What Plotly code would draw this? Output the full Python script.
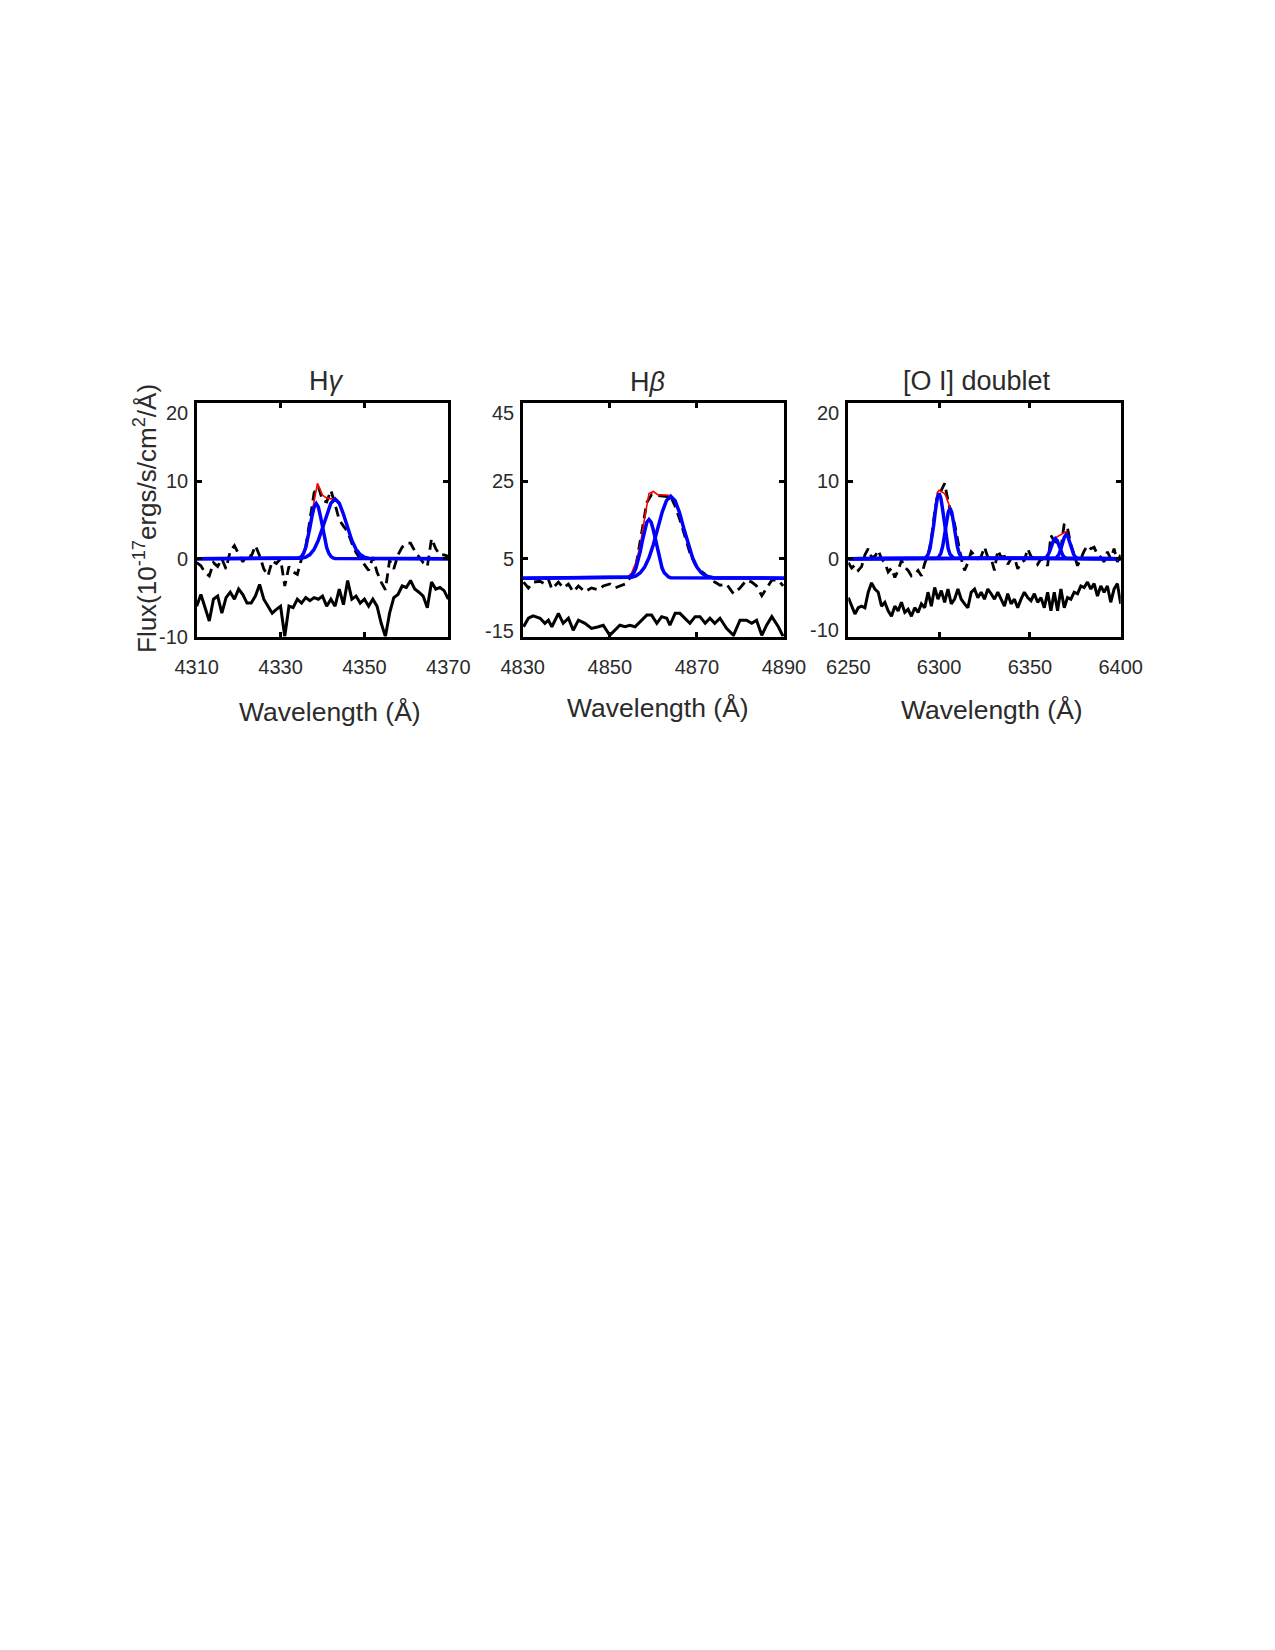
import numpy as np
import plotly.graph_objects as go

# ---------------- Panel 1 : H-gamma ----------------
hg_wave = np.linspace(4310, 4370, 61)
hg_flux = [-0.5, -0.9, -1.8, -2.2, -0.5, -1.0, 0.0, -1.3, 1.0, 1.7,
           0.6, -0.4, 0.5, 0.3, 1.7, 0.4, -1.3, -2.2, -0.3, -0.6,
           0.0, -3.5, -1.0, -1.7, -2.0, 0.0, 1.5, 5.0, 8.5, 9.3,
           7.5, 7.3, 8.8, 7.0, 5.0, 4.2, 3.5, 2.0, 0.8, 0.0,
           -0.7, -1.5, 0.2, -1.7, -3.0, -4.0, -0.2, -1.3, 0.5, 1.5,
           2.0, 2.0, 1.0, 0.3, -0.5, -1.0, 2.6, 1.3, 0.5, 0.5, 0.3]
hg_resid = [-6.1, -4.6, -6.3, -8.0, -5.2, -4.8, -7.0, -5.0, -4.3, -5.2,
            -3.9, -4.6, -5.7, -5.7, -4.8, -3.3, -5.2, -6.1, -7.0, -6.5,
            -6.1, -10.0, -6.1, -6.3, -5.2, -5.7, -5.0, -5.4, -5.0, -5.2,
            -4.8, -6.1, -5.2, -6.1, -3.9, -5.9, -2.8, -5.2, -4.8, -5.7,
            -5.2, -6.1, -5.2, -6.1, -8.3, -10.0, -7.0, -5.0, -4.6, -3.5,
            -3.7, -2.8, -3.9, -4.3, -4.8, -6.3, -3.0, -3.9, -3.7, -4.1, -5.2]
hg_c1_wave = [4310, 4334, 4334.5, 4335, 4335.5, 4336, 4336.5, 4337, 4337.5, 4338, 4338.5,
              4339, 4339.5, 4340, 4340.5, 4341, 4341.5, 4342, 4342.5, 4343, 4370]
hg_c1 = [0, 0.04, 0.12, 0.31, 0.71, 1.44, 2.56, 4.00, 5.50, 6.66, 7.1,
         6.66, 5.50, 4.00, 2.56, 1.44, 0.71, 0.31, 0.12, 0.04, 0]
hg_c2_wave = [4310, 4335, 4336, 4337, 4338, 4339, 4340, 4341, 4342, 4343,
              4344, 4345, 4346, 4347, 4348, 4349, 4350, 4351, 4370]
hg_c2 = [0, 0.07, 0.2, 0.54, 1.21, 2.36, 3.96, 5.73, 7.15, 7.7,
         7.15, 5.73, 3.96, 2.36, 1.21, 0.54, 0.2, 0.07, 0]
hg_fit_wave = [4310, 4333, 4334, 4335, 4336, 4337, 4338, 4338.8, 4340, 4341, 4342, 4343,
               4344, 4345, 4346, 4347, 4348, 4349, 4350, 4351, 4370]
hg_fit = [0, 0, 0.1, 0.4, 1.6, 4.5, 7.9, 9.7, 8.2, 7.8, 7.7, 7.7,
          7.15, 5.73, 3.96, 2.36, 1.21, 0.54, 0.2, 0.07, 0]

# ---------------- Panel 2 : H-beta ----------------
hb_wave = [4830.2, 4831.3, 4832.4, 4834.0, 4835.1, 4835.9, 4836.7, 4838.2, 4839.3, 4840.5,
           4841.6, 4842.8, 4844.3, 4845.8, 4847.4, 4848.5, 4850.0, 4851.2, 4852.3, 4853.5,
           4854.6, 4855.8, 4856.9, 4858.5, 4859.6, 4860.8, 4861.9, 4863.1, 4863.8, 4865.0,
           4866.1, 4867.3, 4868.4, 4869.6, 4870.7, 4871.9, 4873.0, 4874.1, 4875.3, 4876.8,
           4878.4, 4879.9, 4881.4, 4882.6, 4883.7, 4884.9, 4886.0, 4887.2, 4888.7, 4889.8]
hb_flux = [-1.0, -2.5, -1.0, -0.8, -1.5, -0.3, -2.8, -1.0, -2.5, -1.5,
           -3.5, -2.0, -3.5, -2.5, -3.0, -2.0, -1.5, -2.5, -2.0, -1.5,
           0.0, 2.0, 9.0, 19.5, 21.5, 21.3, 21.2, 21.0, 21.5, 18.5,
           15.0, 10.5, 6.5, 3.5, 2.0, 1.0, -0.5, -1.0, -1.8, -1.5,
           -4.0, -2.5, -0.5, -1.0, -2.0, -4.5, -2.5, -0.5, -0.5, -2.0]
hb_resid = [-12.5, -10.3, -9.7, -10.3, -11.6, -10.8, -12.5, -9.05, -11.6, -10.3,
            -13.4, -10.8, -11.6, -12.9, -12.5, -12.1, -14.7, -13.2, -12.1, -12.5,
            -12.1, -12.5, -11.2, -9.5, -9.5, -11.6, -9.9, -10.3, -12.1, -9.05,
            -9.05, -10.3, -11.6, -9.9, -9.9, -11.6, -10.3, -11.6, -10.3, -12.9,
            -14.7, -10.8, -10.8, -11.6, -10.8, -14.7, -12.1, -9.9, -12.5, -15.0]
hb_c1_wave = [4830, 4854, 4854.5, 4855, 4855.5, 4856, 4856.5, 4857, 4857.5, 4858, 4858.5,
              4859, 4859.5, 4860, 4860.5, 4861, 4861.5, 4862, 4862.5, 4863, 4863.5, 4864, 4890]
hb_c1 = [0, 0.11, 0.29, 0.66, 1.38, 2.60, 4.46, 6.91, 9.73, 12.4, 14.4,
         15.1, 14.4, 12.4, 9.73, 6.91, 4.46, 2.60, 1.38, 0.66, 0.29, 0.11, 0]
hb_c2_wave = [4830, 4854, 4855, 4856, 4857, 4858, 4859, 4860, 4861, 4862, 4863,
              4864, 4865, 4866, 4867, 4868, 4869, 4870, 4871, 4872, 4873, 4874, 4890]
hb_c2 = [0, 0.08, 0.23, 0.60, 1.39, 2.86, 5.26, 8.67, 12.8, 16.9, 19.96,
         21.1, 19.96, 16.9, 12.8, 8.67, 5.26, 2.86, 1.39, 0.60, 0.23, 0.08, 0]
hb_fit_wave = [4830, 4853, 4854, 4855, 4856, 4857, 4858, 4859, 4860, 4861, 4862, 4863,
               4864, 4865, 4866, 4867, 4868, 4869, 4870, 4871, 4872, 4873, 4874, 4890]
hb_fit = [0, 0, 0.2, 1.3, 4.0, 8.5, 15.5, 21.8, 22.3, 21.5, 21.4, 21.4,
          21.2, 19.96, 16.9, 12.8, 8.67, 5.26, 2.86, 1.39, 0.6, 0.23, 0.08, 0]

# ---------------- Panel 3 : [O I] doublet ----------------
oi_wave = np.linspace(6250, 6400, 83)
oi_flux = [-0.5, -1.2, -0.8, -1.5, -1.0, 0.5, 1.3, 0.2, 0.3, 1.1,
           0.0, -0.5, -1.7, -1.2, -2.4, -1.5, -0.2, -1.1, -1.5, -2.2,
           -2.0, -1.5, -2.2, -0.6, 0.5, 2.5, 6.0, 8.5, 8.8, 9.7,
           7.5, 5.8, 4.5, 2.0, 0.0, -1.5, -0.5, 0.9, 0.4, 0.0,
           0.3, 1.5, 0.2, 0.0, -1.5, 1.1, 0.2, 0.3, -0.7, 0.0,
           0.2, -1.3, -0.5, -0.2, 1.3, 0.3, 0.0, -0.7, 0.0, -0.2,
           -0.9, 3.0, 2.3, 2.0, 1.3, 4.5, 3.9, 1.8, 0.5, -0.9,
           0.0, 1.0, 1.7, 1.3, 1.5, 0.5, 0.2, -0.4, 0.9, 0.0,
           1.3, -0.4, 0.5]
oi_resid = [-5.0, -6.1, -7.1, -6.3, -6.1, -6.3, -4.3, -3.1, -3.9, -4.3,
            -6.1, -5.6, -6.7, -7.4, -6.1, -6.7, -5.6, -6.9, -6.5, -7.4,
            -6.3, -6.9, -5.8, -6.3, -4.3, -6.1, -3.7, -5.2, -4.1, -5.6,
            -3.9, -5.8, -5.2, -3.9, -5.2, -5.8, -6.3, -4.3, -3.9, -5.0,
            -4.3, -5.2, -3.9, -4.5, -5.2, -4.3, -5.2, -6.1, -4.5, -5.8,
            -5.2, -6.3, -5.2, -4.3, -5.0, -5.4, -4.5, -5.6, -5.0, -6.3,
            -4.3, -6.7, -4.3, -6.7, -3.9, -6.3, -5.0, -5.2, -4.3, -4.5,
            -3.5, -3.7, -3.0, -3.9, -3.2, -4.8, -3.5, -4.3, -3.5, -5.6,
            -3.9, -3.2, -5.8]
oi_c1_wave = [6250, 6292, 6293, 6294, 6295, 6296, 6297, 6298, 6299, 6300,
              6301, 6302, 6303, 6304, 6305, 6306, 6307, 6308, 6400]
oi_c1 = [0, 0.07, 0.23, 0.59, 1.32, 2.57, 4.32, 6.25, 7.80, 8.4,
         7.80, 6.25, 4.32, 2.57, 1.32, 0.59, 0.23, 0.07, 0]
oi_c2_wave = [6250, 6299, 6300, 6301, 6302, 6303, 6304, 6305, 6306,
              6307, 6308, 6309, 6310, 6311, 6312, 6313, 6400]
oi_c2 = [0, 0.09, 0.29, 0.74, 1.62, 2.98, 4.60, 5.96, 6.5,
         5.96, 4.60, 2.98, 1.62, 0.74, 0.29, 0.09, 0]
oi_c3_wave = [6250, 6358, 6359, 6360, 6361, 6362, 6363, 6364, 6365, 6366, 6367, 6368, 6369, 6370, 6400]
oi_c3 = [0, 0.06, 0.2, 0.5, 1.03, 1.72, 2.35, 2.6, 2.35, 1.72, 1.03, 0.5, 0.2, 0.06, 0]
oi_c4_wave = [6250, 6364, 6365, 6366, 6367, 6368, 6369, 6370, 6371, 6372, 6373, 6374, 6375, 6376, 6400]
oi_c4 = [0, 0.07, 0.24, 0.6, 1.22, 2.05, 2.8, 3.1, 2.8, 2.05, 1.22, 0.6, 0.24, 0.07, 0]
oi_fit_wave = [6250, 6291, 6292, 6293, 6294, 6295, 6296, 6297, 6298, 6299, 6300, 6301, 6302,
               6303, 6304, 6305, 6306, 6307, 6308, 6309, 6310, 6311, 6312, 6313,
               6357, 6358, 6359, 6360, 6361, 6362, 6363, 6364, 6365, 6366, 6367, 6368,
               6369, 6370, 6371, 6372, 6373, 6374, 6375, 6376, 6377, 6400]
oi_fit = [0, 0, 0.07, 0.23, 0.6, 1.4, 2.8, 4.8, 7.0, 8.5, 8.8, 8.7, 8.6,
          8.4, 7.9, 7.3, 6.8, 5.96, 4.6, 2.98, 1.62, 0.74, 0.29, 0.09,
          0, 0.06, 0.2, 0.5, 1.03, 1.72, 2.4, 2.7, 2.85, 3.0, 3.15, 3.3,
          3.45, 3.5, 3.0, 2.2, 1.22, 0.6, 0.24, 0.07, 0, 0]

titles = ["H<i>γ</i>", "H<i>β</i>", "[O I] doublet"]
x_ranges = [[4310, 4370], [4830, 4890], [6250, 6400]]
x_ticks = [[4310, 4330, 4350, 4370], [4830, 4850, 4870, 4890], [6250, 6300, 6350, 6400]]
y_ranges = [[-10, 20], [-15, 45], [-10, 20]]
y_ticks = [[-10, 0, 10, 20], [-15, 5, 25, 45], [-10, 0, 10, 20]]
y_ticktext = [["-10", "0", "10", "20"], ["-15", "5", "25", "45"], ["-10", "0", "10", "20"]]
# where the y tick labels sit (end labels pulled slightly inside the box, as in the original)
y_label_pos = [[-10, 0, 10, 18.7], [-13.6, 5, 25, 42.6], [-9.2, 0, 10, 18.7]]

W, H = 1275, 1650
boxes = [(196.7, 448.3), (522.7, 784.0), (848.3, 1120.7)]
box_top, box_bot = 403.3, 636.5

FONT = "Liberation Sans, Arial, Helvetica, sans-serif"
TXT = "#2b2b2b"

fig = go.Figure()

panels = [
    (hg_wave, hg_flux, hg_resid, [(hg_c1_wave, hg_c1), (hg_c2_wave, hg_c2)], (hg_fit_wave, hg_fit)),
    (hb_wave, hb_flux, hb_resid, [(hb_c1_wave, hb_c1), (hb_c2_wave, hb_c2)], (hb_fit_wave, hb_fit)),
    (oi_wave, oi_flux, oi_resid, [(oi_c1_wave, oi_c1), (oi_c2_wave, oi_c2),
                                  (oi_c3_wave, oi_c3), (oi_c4_wave, oi_c4)], (oi_fit_wave, oi_fit)),
]

annotations = []
for i, (wv, fl, rs, comps, fit) in enumerate(panels):
    ax = "" if i == 0 else str(i + 1)
    xa, ya = "x" + ax, "y" + ax
    fig.add_trace(go.Scatter(x=wv, y=fl, mode="lines", xaxis=xa, yaxis=ya,
                             line=dict(color="black", width=2.8, dash="10px,6px"), showlegend=False))
    fig.add_trace(go.Scatter(x=wv, y=rs, mode="lines", xaxis=xa, yaxis=ya,
                             line=dict(color="black", width=3.0), showlegend=False))
    fig.add_trace(go.Scatter(x=fit[0], y=fit[1], mode="lines", xaxis=xa, yaxis=ya,
                             line=dict(color="#ff0000", width=1.6), showlegend=False))
    for cw, cv in comps:
        fig.add_trace(go.Scatter(x=cw, y=cv, mode="lines", xaxis=xa, yaxis=ya,
                                 line=dict(color="#0000ff", width=3.5), showlegend=False))

    x0, x1 = boxes[i]
    common = dict(showline=True, mirror="allticks", linecolor="black", linewidth=3,
                  ticks="inside", ticklen=5, tickwidth=2.5, tickcolor="black",
                  showgrid=False, zeroline=False, automargin=False,
                  tickfont=dict(size=20, color=TXT, family=FONT))
    fig.layout["xaxis" + ax] = dict(domain=[x0 / W, x1 / W], range=x_ranges[i],
                                    tickvals=x_ticks[i], anchor=ya,
                                    ticklabelstandoff=10, **common)
    fig.layout["yaxis" + ax] = dict(domain=[1 - box_bot / H, 1 - box_top / H], range=y_ranges[i],
                                    tickvals=y_ticks[i], anchor=xa,
                                    showticklabels=False, **common)
    # y tick labels, placed as in the original figure
    for val, txt in zip(y_label_pos[i], y_ticktext[i]):
        annotations.append(dict(text=txt, x=0, xref=xa + " domain", y=val, yref=ya,
                                xanchor="right", yanchor="middle", xshift=-7, showarrow=False,
                                font=dict(size=20, color=TXT, family=FONT)))

title_pos = [(326, 381), (648, 382), (977, 381)]
for t, (px, py) in zip(titles, title_pos):
    annotations.append(dict(text=t, x=px / W, y=1 - py / H, xref="paper", yref="paper",
                            xanchor="center", yanchor="middle", showarrow=False,
                            font=dict(size=27, color=TXT, family=FONT)))
xlab_pos = [(330, 712), (658, 708), (992, 710)]
for (px, py) in xlab_pos:
    annotations.append(dict(text="Wavelength (Å)", x=px / W, y=1 - py / H, xref="paper", yref="paper",
                            xanchor="center", yanchor="middle", showarrow=False,
                            font=dict(size=26.5, color=TXT, family=FONT)))
annotations.append(dict(text="Flux(10<sup>-17</sup>ergs/s/cm<sup>2</sup>/Å)", x=145 / W, y=1 - 519 / H,
                        xref="paper", yref="paper", xanchor="center", yanchor="middle",
                        textangle=-90, showarrow=False,
                        font=dict(size=26, color=TXT, family=FONT)))

fig.update_layout(width=W, height=H, autosize=False,
                  margin=dict(l=0, r=0, t=0, b=0, pad=0),
                  paper_bgcolor="white", plot_bgcolor="white",
                  annotations=annotations, showlegend=False)

fig.write_html("out.html")
